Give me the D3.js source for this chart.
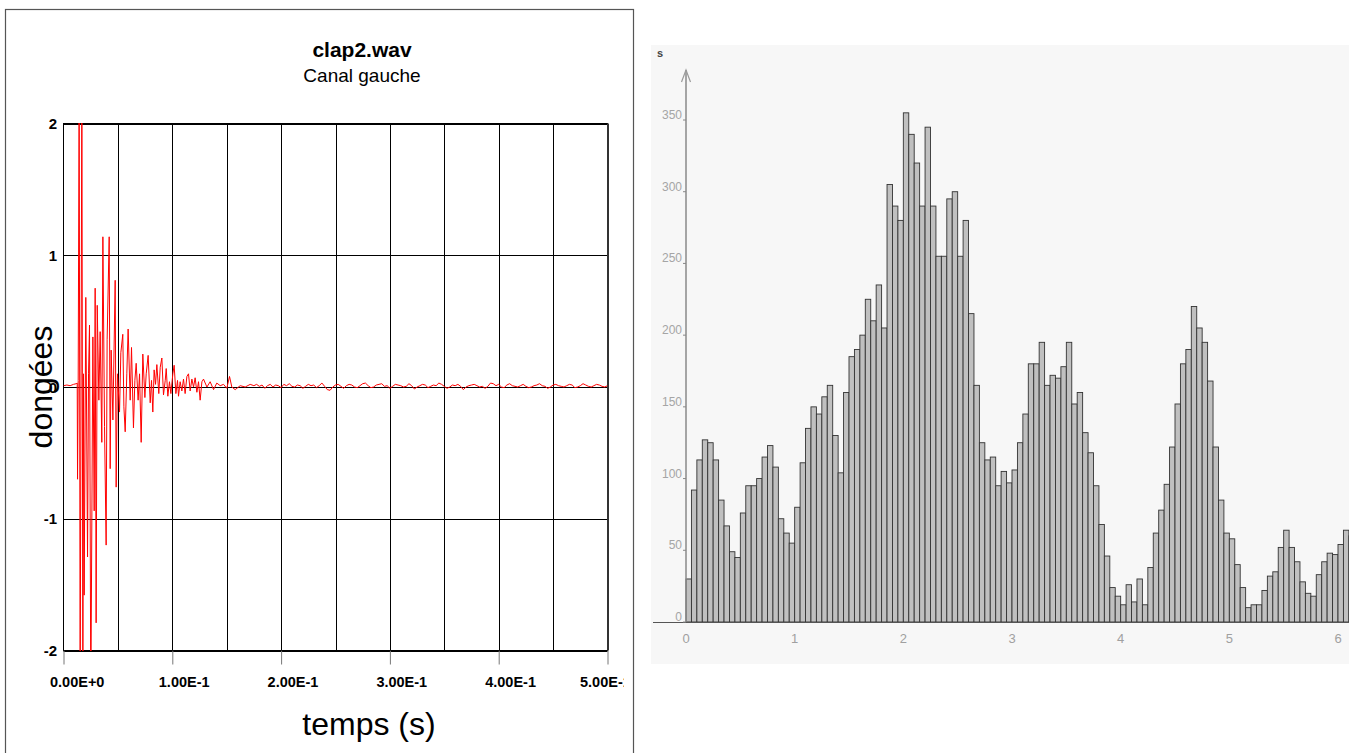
<!DOCTYPE html>
<html>
<head>
<meta charset="utf-8">
<script src="https://cdnjs.cloudflare.com/ajax/libs/d3/7.8.5/d3.min.js"></script>
<style>
  body { margin: 0; background: #fff; }
  svg { display: block; font-family: "Liberation Sans", Arial, sans-serif; }
</style>
</head>
<body>
<script>
// ---- left chart: clap2.wav, canal gauche ----
// attack of the clap, time in ms, value
const attackMs = [0, 3.1, 6.1, 9.2, 11.6, 12.6, 12.9, 13.5, 14.4, 15.3, 16.9, 17.8, 18.4, 19.0,
  20.5, 22.1, 23.0, 23.9, 25.1, 27.0, 28.2, 29.1, 30.0, 31.0, 32.5, 33.7, 35.2, 36.2, 37.7,
  39.2, 40.1, 42.0, 42.9, 43.8, 45.4, 47.5, 48.4, 49.6, 51.5, 52.7, 54.5, 55.5, 56.7, 58.2,
  59.4, 61.3, 62.5, 64.3, 65.6, 66.8, 68.6, 69.9, 71.4, 72.9, 74.8, 76.0, 77.8, 79.7, 80.9,
  82.1, 83.3, 84.6, 85.8, 87.6, 88.9, 90.4, 91.9, 93.5, 94.4, 95.9, 97.4, 98.7, 100.5, 101.7,
  103.3, 104.8, 105.7, 107.2, 108.8, 110.3, 111.8, 113.4, 114.9, 116.4, 118.0, 119.5, 121.0,
  122.6, 124.1, 125.6, 127.2, 128.7, 131.8, 134.8, 137.9, 140.9, 144.0, 147.1, 150.1, 152.6,
  154.7, 157.8, 162.4, 167.0, 171.6];
const attackVal = [0.01, 0.015, 0.01, 0.02, 0.025, 0.03, -0.7, 0.05, 2.4, -2.4, 2.4, -2.4, 0.1, -1.58,
  0.68, -1.29, 0.1, 0.47, -2.4, 0.38, -0.94, 0.75, -1.79, 0.62, -0.1, 0.42, -0.42, 1.14, -0.3,
  -1.2, 0.36, 1.14, -0.62, 0.28, -0.25, 0.81, -0.76, 0.1, -0.19, 0.26, 0.4, -0.15, -0.34, 0.1,
  0.44, -0.1, 0.3, -0.31, 0.05, 0.18, -0.1, 0.1, -0.42, 0.25, -0.08, 0.1, 0.24, -0.12, 0.05,
  -0.19, 0.13, 0.02, 0.17, -0.05, 0.15, 0.22, -0.06, 0.05, 0.14, -0.07, 0.04, -0.05, 0.1, 0.165,
  -0.05, 0.05, -0.07, 0.04, -0.03, 0.06, -0.05, 0.08, 0.1, -0.03, 0.06, 0.0, 0.07,
  -0.04, 0.04, -0.1, 0.04, 0.06, 0.0, 0.04, -0.02, 0.03, 0.01, 0.02, -0.01, 0.08,
  0.0, -0.02, 0.01, 0.0, 0.02];
// low level tail after 175 ms, one value every 2.5 ms
const tailStartMs = 175;
const tailStepMs = 2.5;
const tailVal = [0.01, 0.02, 0.005, 0.015, -0.01, 0.01, 0.02, 0.0, 0.015, 0.01,
  -0.005, 0.02, 0.01, 0.025, 0.005, 0.0, 0.015, 0.01, -0.01, 0.005,
  0.02, 0.01, 0.015, -0.005, 0.01, 0.03, 0.005, -0.02, -0.025, 0.0,
  0.015, 0.02, 0.005, -0.01, 0.01, 0.02, 0.015, 0.0, -0.005, 0.01,
  0.025, 0.03, 0.01, -0.005, 0.0, 0.015, 0.02, 0.025, 0.005, 0.01,
  -0.01, 0.005, 0.02, 0.015, 0.01, 0.0, 0.005, 0.025, 0.01, -0.015,
  0.0, 0.01, 0.02, 0.015, -0.005, 0.005, 0.015, 0.01, 0.03, 0.02,
  0.005, -0.01, 0.0, 0.015, 0.01, 0.02, 0.005, -0.02, 0.0, 0.01,
  0.015, 0.02, 0.01, 0.0, 0.005, -0.01, 0.005, 0.03, 0.025, 0.01,
  0.02, 0.0, -0.005, 0.015, 0.025, 0.01, 0.005, 0.0, 0.01, 0.02,
  0.005, -0.005, 0.0, 0.01, 0.015, 0.025, 0.01, 0.005, -0.01, 0.0,
  0.015, 0.02, 0.01, 0.005, 0.0, 0.01, 0.02, 0.015, -0.005, 0.0,
  0.01, 0.025, 0.015, 0.005, 0.0, 0.01, 0.02, 0.015, 0.005, 0.0, 0.01];
const waveXTicks = [0, 0.1, 0.2, 0.3, 0.4, 0.5];
const waveXGrid = [0.05, 0.1, 0.15, 0.2, 0.25, 0.3, 0.35, 0.4, 0.45];
const waveYTicks = [-2, -1, 0, 1, 2];

// ---- right chart: bars every 0.05 s ----
const binStep = 0.05;
const binVal = [30, 92, 113, 127, 125, 113, 85, 67, 49, 45,
  76, 95, 95, 100, 115, 123, 108, 72, 62, 55,
  80, 111, 135, 150, 145, 157, 165, 130, 104, 160,
  185, 190, 200, 225, 210, 235, 205, 305, 290, 280,
  355, 340, 320, 290, 345, 290, 255, 255, 295, 300,
  255, 280, 215, 165, 125, 113, 115, 95, 105, 97,
  106, 125, 145, 180, 180, 195, 165, 172, 170, 178,
  195, 152, 160, 132, 118, 95, 68, 46, 24, 18,
  12, 26, 14, 30, 12, 38, 62, 78, 96, 122,
  152, 180, 190, 220, 205, 195, 168, 122, 85, 62,
  58, 40, 24, 10, 12, 12, 22, 32, 35, 52,
  64, 52, 42, 28, 20, 18, 33, 42, 48, 47,
  54, 64, 60];
const barXTicks = [0, 1, 2, 3, 4, 5, 6];
const barYTicks = [0, 50, 100, 150, 200, 250, 300, 350];

const svg = d3.select('body').append('svg')
  .attr('width', 1358)
  .attr('height', 753);

// ================= left panel =================
const defs = svg.append('defs');
defs.append('clipPath').attr('id', 'panelClip')
  .append('rect').attr('x', 5).attr('y', 9).attr('width', 629).attr('height', 760);
defs.append('clipPath').attr('id', 'plotClip')
  .append('rect').attr('x', 63.5).attr('y', 123).attr('width', 544).attr('height', 528);
defs.append('clipPath').attr('id', 'labelClip')
  .append('rect').attr('x', -100).attr('y', 0).attr('width', 724).attr('height', 60);

const lp = svg.append('g').attr('clip-path', 'url(#panelClip)');

const x = d3.scaleLinear().domain([0, 0.5]).range([63.5, 607.5]);
const y = d3.scaleLinear().domain([-2, 2]).range([650.5, 123.5]);

// grid
lp.selectAll('.vgrid').data(waveXGrid).enter().append('line')
  .attr('class', 'vgrid')
  .attr('x1', d => Math.round(x(d)) + 0.5).attr('x2', d => Math.round(x(d)) + 0.5)
  .attr('y1', y(2)).attr('y2', y(-2))
  .attr('stroke', '#000').attr('stroke-width', 1);
lp.selectAll('.hgrid').data(waveYTicks).enter().append('line')
  .attr('class', 'hgrid')
  .attr('x1', x(0)).attr('x2', x(0.5))
  .attr('y1', d => Math.round(y(d)) + 0.5).attr('y2', d => Math.round(y(d)) + 0.5)
  .attr('stroke', '#000').attr('stroke-width', 1);
lp.append('rect')
  .attr('x', x(0)).attr('y', y(2))
  .attr('width', x(0.5) - x(0)).attr('height', y(-2) - y(2))
  .attr('fill', 'none').attr('stroke', '#000');
lp.append('line')
  .attr('x1', x(0.5) + 0.5).attr('x2', x(0.5) + 0.5)
  .attr('y1', y(2)).attr('y2', y(-2))
  .attr('stroke', '#333').attr('stroke-width', 2);

// x axis, labels start a little left of their tick; the last one is pushed in and cut
const sci = d => d === 0 ? '0.00E+0' : d.toExponential(2).toUpperCase();
const xAxis = lp.append('g')
  .attr('transform', `translate(0,${y(-2)})`)
  .attr('clip-path', 'url(#labelClip)')
  .call(d3.axisBottom(x).tickValues(waveXTicks).tickSize(14).tickFormat(sci));
xAxis.select('.domain').remove();
xAxis.selectAll('line').attr('stroke', '#777');
xAxis.selectAll('text')
  .attr('x', d => d === 0.5 ? -28 : -14).attr('y', 36).attr('dy', 0)
  .attr('text-anchor', 'start')
  .attr('fill', '#000')
  .style('font-size', '14.5px').style('font-weight', 'bold')
  .style('font-family', '"Liberation Sans", Arial, sans-serif');

// y labels
lp.selectAll('.ylab').data(waveYTicks).enter().append('text')
  .attr('class', 'ylab')
  .attr('x', 57).attr('y', d => y(d) + 5.5)
  .attr('text-anchor', 'end')
  .style('font-size', '15px').style('font-weight', 'bold')
  .text(d => d);

// waveform
const wave = attackMs.map((t, i) => [t / 1000, attackVal[i]])
  .concat(tailVal.map((v, i) => [(tailStartMs + i * tailStepMs) / 1000, v]));
lp.append('path')
  .datum(wave)
  .attr('clip-path', 'url(#plotClip)')
  .attr('fill', 'none')
  .attr('stroke', '#ff0000')
  .attr('stroke-width', 1)
  .attr('d', d3.line().x(d => x(d[0])).y(d => y(d[1])));

// titles
lp.append('text').attr('x', 362).attr('y', 57).attr('text-anchor', 'middle')
  .style('font-size', '21px').style('font-weight', 'bold').text('clap2.wav');
lp.append('text').attr('x', 362).attr('y', 82).attr('text-anchor', 'middle')
  .style('font-size', '19px').text('Canal gauche');
lp.append('text').attr('x', 369).attr('y', 735).attr('text-anchor', 'middle')
  .style('font-size', '32px').text('temps (s)');
lp.append('text')
  .attr('transform', `translate(52,${y(0)}) rotate(-90)`)
  .attr('text-anchor', 'middle')
  .style('font-size', '32px').text('dongées');

svg.append('rect')
  .attr('x', 5.5).attr('y', 9.5).attr('width', 628).attr('height', 800)
  .attr('fill', 'none').attr('stroke', '#555').attr('stroke-width', 1.2);

// ================= right panel =================
const rp = svg.append('g');
defs.append('clipPath').attr('id', 'barClip')
  .append('rect').attr('x', 651).attr('y', 45).attr('width', 698).attr('height', 619);

rp.append('rect')
  .attr('x', 651).attr('y', 45).attr('width', 698).attr('height', 619)
  .attr('fill', '#f7f7f7');

const xr = d3.scaleLinear().domain([0, 6]).range([686, 1338]);
const yr = d3.scaleLinear().domain([0, 350]).range([622, 120]);

rp.append('g').attr('clip-path', 'url(#barClip)')
  .selectAll('rect').data(binVal).enter().append('rect')
  .attr('x', (d, i) => xr(i * binStep))
  .attr('width', xr(binStep) - xr(0))
  .attr('y', d => yr(d))
  .attr('height', d => yr(0) - yr(d))
  .attr('fill', '#c0c0c0')
  .attr('stroke', '#333')
  .attr('stroke-width', 0.9);

// axes
rp.append('line')
  .attr('x1', 653).attr('x2', 1349).attr('y1', yr(0) + 0.5).attr('y2', yr(0) + 0.5)
  .attr('stroke', '#555');
rp.append('line')
  .attr('x1', xr(0)).attr('x2', xr(0)).attr('y1', yr(0)).attr('y2', 70)
  .attr('stroke', '#8a8a8a').attr('stroke-width', 1.5);
rp.append('path')
  .attr('d', `M${xr(0) - 4.5},82 L${xr(0)},70 L${xr(0) + 4.5},82`)
  .attr('fill', 'none').attr('stroke', '#9a9a9a').attr('stroke-width', 1.2);

rp.selectAll('.ytk').data(barYTicks).enter().append('line')
  .attr('x1', xr(0) - 3).attr('x2', xr(0))
  .attr('y1', d => yr(d)).attr('y2', d => yr(d))
  .attr('stroke', '#888');
rp.selectAll('.ylab').data(barYTicks).enter().append('text')
  .attr('x', xr(0) - 4).attr('y', d => yr(d) - 1)
  .attr('text-anchor', 'end')
  .attr('fill', '#a5a5a5')
  .style('font-size', '12px')
  .text(d => d);
rp.selectAll('.xlab').data(barXTicks).enter().append('text')
  .attr('x', d => xr(d)).attr('y', 643)
  .attr('text-anchor', 'middle')
  .attr('fill', '#a0a0a0')
  .style('font-size', '13px')
  .text(d => d);
rp.append('text').attr('x', 657).attr('y', 57)
  .attr('fill', '#444').style('font-size', '11px').style('font-weight', 'bold')
  .text('s');
</script>
</body>
</html>
